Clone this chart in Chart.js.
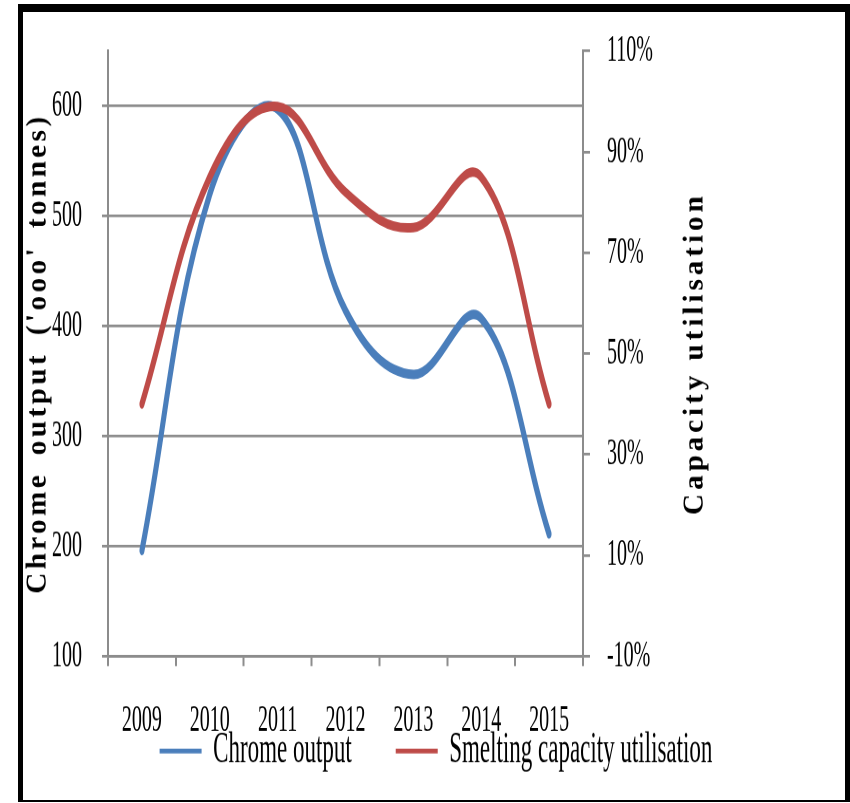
<!DOCTYPE html>
<html>
<head>
<title>Chrome output and smelting capacity utilisation</title>
<script src="https://cdn.jsdelivr.net/npm/chart.js"></script>
<style>
  body { margin: 0; width: 850px; height: 803px; position: relative; overflow: hidden; background: #fff; }
  #frame { position: absolute; left: 18px; top: 4px; width: 822px; height: 788px;
           border-style: solid; border-color: #000; border-width: 8px 5px 2px 5px; }
  /* the source picture is stretched vertically, so the chart is drawn flat and scaled up */
  #wrap { position: absolute; left: 0; top: 0; width: 850px; height: 423px;
          transform: scaleY(1.8983); transform-origin: 0 0; }
</style>
</head>
<body>
<div id="frame"></div>
<div id="wrap"><canvas id="myChart"></canvas></div>
<script>
// data
const years = ['2009', '2010', '2011', '2012', '2013', '2014', '2015'];
const chromeOutput = [196, 520, 597, 414, 356, 407, 211];        // '000 tonnes
const smeltingUtilisation = [40, 85, 99, 82, 75, 85, 40];         // %
const leftTitle = "Chrome output ('ooo' tonnes)";
const rightTitle = 'Capacity utilisation';

const S = 803 / 423;
const gridColor = '#8c8c8c';
const serif = 'Liberation Serif';

// axis titles drawn un-stretched (counter the css scale)
const axisTitles = {
  id: 'axisTitles',
  afterDraw(chart) {
    const { ctx, chartArea } = chart;
    const midY = (chartArea.top + chartArea.bottom) / 2 * S;
    ctx.save();
    ctx.scale(1, 1 / S);
    ctx.font = 'bold 29px "' + serif + '"';
    ctx.fillStyle = '#000';
    ctx.textAlign = 'center';
    ctx.textBaseline = 'middle';
    [[chartArea.left - 70, leftTitle, '3.5px', '6px'],
     [chartArea.right + 112, rightTitle, '4px', '0px']].forEach(([x, t, sp, ws]) => {
      ctx.save();
      ctx.letterSpacing = sp;
      ctx.wordSpacing = ws;
      ctx.translate(x, midY);
      ctx.rotate(-Math.PI / 2);
      ctx.fillText(t, 0, 0);
      ctx.restore();
    });
    ctx.restore();
  }
};

// keep the plot area where the picture has it
function noEdgePadding(s) {
  s.paddingTop = 0;
  s.paddingBottom = 0;
}

new Chart(document.getElementById('myChart'), {
  type: 'line',
  data: {
    labels: years,
    datasets: [
      { label: 'Chrome output', data: chromeOutput, yAxisID: 'y',
        borderColor: '#4a7ebb', backgroundColor: '#4a7ebb', order: 1 },
      { label: 'Smelting capacity utilisation', data: smeltingUtilisation, yAxisID: 'y1',
        borderColor: '#be4b48', backgroundColor: '#be4b48', order: 0 }
    ]
  },
  options: {
    responsive: true,
    maintainAspectRatio: false,
    devicePixelRatio: 2,
    animation: false,
    layout: { padding: { left: 22, right: 0, top: 26.9, bottom: 0.4 } },
    elements: {
      line: { borderWidth: 5, tension: 0.4, borderCapStyle: 'round', borderJoinStyle: 'round', fill: false },
      point: { radius: 0, hoverRadius: 0 }
    },
    plugins: {
      tooltip: { enabled: false },
      legend: {
        position: 'bottom',
        labels: {
          usePointStyle: true,
          pointStyleWidth: 42,
          padding: 44,
          color: '#000',
          font: { family: serif, size: 23 },
          sort: (a, b) => a.datasetIndex - b.datasetIndex,
          generateLabels(chart) {
            return Chart.defaults.plugins.legend.labels.generateLabels(chart)
              .map(l => Object.assign(l, { lineWidth: 2.5, pointStyle: 'line' }));
          }
        }
      }
    },
    scales: {
      x: {
        offset: true,
        afterFit(s) {
          // labels sit close over the legend, so the axis box is kept thin and not clipped
          s.height = -5.5;
          s._computeLabelArea = () => undefined;
        },
        grid: { display: true, drawOnChartArea: false, drawTicks: true, tickLength: 5.3,
                offset: true, color: gridColor, lineWidth: 2 },
        border: { display: true, color: gridColor, width: 1.4 },
        ticks: { color: '#000', font: { family: serif, size: 20 }, padding: 17,
                 maxRotation: 0, autoSkip: false }
      },
      y: {
        position: 'left',
        min: 100,
        max: 650,
        afterFit(s) { s.width = 86; noEdgePadding(s); },
        grid: { color: gridColor, lineWidth: 1.4, tickLength: 6 },
        border: { display: true, color: gridColor, width: 2 },
        ticks: { stepSize: 100, includeBounds: false, padding: 20, color: '#000',
                 font: { family: serif, size: 20 } }
      },
      y1: {
        position: 'right',
        min: -10,
        max: 110,
        afterFit(s) { s.width = 267; noEdgePadding(s); },
        grid: { display: true, drawOnChartArea: false, tickLength: 7, color: gridColor, lineWidth: 1.4 },
        border: { display: true, color: gridColor, width: 2 },
        ticks: { stepSize: 20, padding: 17, color: '#000', font: { family: serif, size: 20 },
                 callback: v => v + '%' }
      }
    }
  },
  plugins: [axisTitles]
});
</script>
</body>
</html>
